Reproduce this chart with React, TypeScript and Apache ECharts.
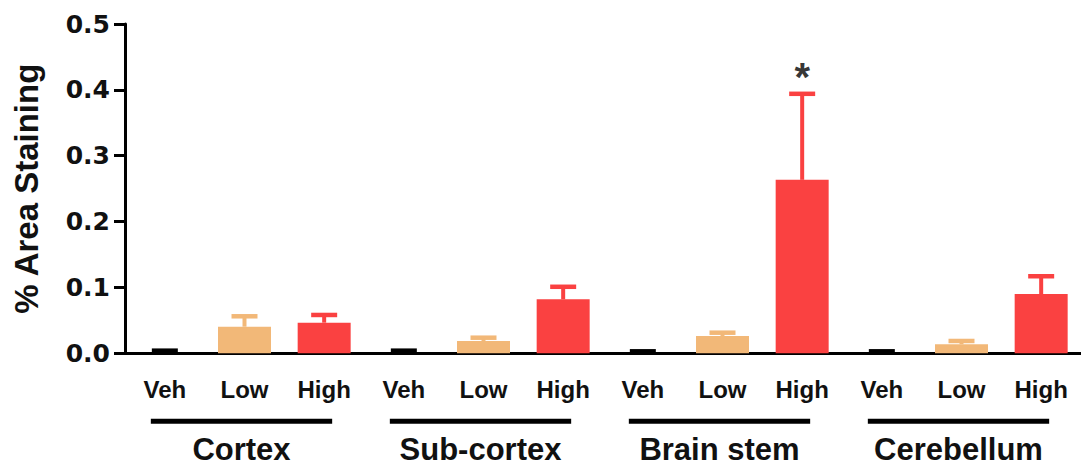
import React, { useEffect, useRef } from "react";
import * as echarts from "echarts";

const categories = ["Veh", "Low", "High", "Veh", "Low", "High", "Veh", "Low", "High", "Veh", "Low", "High"];
const doseIndex = [0, 1, 2, 0, 1, 2, 0, 1, 2, 0, 1, 2];
const means = [0.001, 0.0404, 0.0465, 0.001, 0.0187, 0.082, 0.001, 0.0263, 0.2634, 0.001, 0.0137, 0.09];
const upper = [0.004, 0.0562, 0.0582, 0.004, 0.0237, 0.101, 0.003, 0.0313, 0.394, 0.003, 0.0187, 0.117];
const groupNames = ["Cortex", "Sub-cortex", "Brain stem", "Cerebellum"];
const groupStart = [0, 3, 6, 9];
const groupEnd = [2, 5, 8, 11];
const yTicks = [0, 0.1, 0.2, 0.3, 0.4, 0.5];
const starIndex = 8;
const starValue = 0.42;
const starText = "*";

const doseColors = ["#000000", "#F2B878", "#FA4141"];
const FONT = "'Liberation Sans', Arial, sans-serif";

export default function App() {
  const ref = useRef<HTMLDivElement>(null);
  useEffect(() => {
    document.body.style.margin = "0";
    const chart = echarts.init(ref.current!, null, { renderer: "svg" });
    const option: any = {
      animation: false,
      backgroundColor: "#ffffff",
      grid: { left: 125, top: 24, width: 964, height: 329.3, containLabel: false },
      xAxis: {
        type: "category",
        data: categories,
        boundaryGap: true,
        axisLine: { lineStyle: { color: "#000", width: 3 } },
        axisTick: { alignWithLabel: true, length: 10, lineStyle: { color: "#000", width: 3 } },
        axisLabel: {
          margin: 24,
          fontFamily: FONT,
          fontWeight: "bold",
          fontSize: 24,
          color: "#111",
          interval: 0,
        },
        splitLine: { show: false },
      },
      yAxis: {
        type: "value",
        min: yTicks[0],
        max: yTicks[yTicks.length - 1],
        interval: 0.1,
        name: "% Area Staining",
        nameLocation: "middle",
        nameRotate: 90,
        nameGap: 82,
        nameTextStyle: { fontFamily: FONT, fontWeight: "bold", fontSize: 33, color: "#111" },
        axisLine: { show: true, lineStyle: { color: "#000", width: 3 } },
        axisTick: { show: true, length: 11, lineStyle: { color: "#000", width: 3 } },
        axisLabel: {
          margin: 15,
          fontFamily: "'DejaVu Sans', sans-serif",
          fontWeight: "bold",
          fontSize: 25,
          color: "#111",
          formatter: (v: number) => v.toFixed(1),
        },
        splitLine: { show: false },
      },
      series: [
        {
          type: "bar",
          barWidth: 53,
          z: 2,
          data: means.map((m, i) => ({ value: m, itemStyle: { color: doseColors[doseIndex[i]] } })),
        },
        {
          type: "custom",
          z: 3,
          clip: false,
          data: means.map((m, i) => [i, m, upper[i]]),
          renderItem: (params: any, api: any) => {
            const i = api.value(0);
            const p1 = api.coord([i, api.value(1)]);
            const p2 = api.coord([i, api.value(2)]);
            const color = doseColors[doseIndex[params.dataIndex]];
            return {
              type: "group",
              children: [
                {
                  type: "line",
                  shape: { x1: p1[0], y1: p1[1], x2: p2[0], y2: p2[1] },
                  style: { stroke: color, lineWidth: 4 },
                },
                {
                  type: "line",
                  shape: { x1: p2[0] - 13, y1: p2[1], x2: p2[0] + 13, y2: p2[1] },
                  style: { stroke: color, lineWidth: 4.5 },
                },
              ],
            };
          },
        },
        {
          type: "custom",
          z: 3,
          clip: false,
          silent: true,
          data: groupNames.map((n, g) => [groupStart[g], groupEnd[g]]),
          renderItem: (params: any, api: any) => {
            const a = api.coord([api.value(0), 0]);
            const b = api.coord([api.value(1), 0]);
            const x1 = a[0] - 14;
            const x2 = b[0] + 8;
            const y = a[1];
            return {
              type: "group",
              children: [
                {
                  type: "line",
                  shape: { x1, y1: y + 68, x2, y2: y + 68 },
                  style: { stroke: "#000", lineWidth: 5 },
                },
                {
                  type: "text",
                  x: (x1 + x2) / 2,
                  y: y + 96,
                  style: {
                    text: groupNames[params.dataIndex],
                    fontFamily: FONT,
                    fontWeight: "bold",
                    fontSize: 31,
                    fill: "#111",
                    align: "center",
                    verticalAlign: "middle",
                  },
                },
              ],
            };
          },
        },
        {
          type: "scatter",
          symbolSize: 0,
          z: 4,
          data: [[starIndex, starValue]],
          label: {
            show: true,
            position: "inside",
            formatter: starText,
            fontFamily: FONT,
            fontWeight: "bold",
            fontSize: 40,
            color: "#000",
          },
        },
      ],
    };
    chart.setOption(option);
    return () => chart.dispose();
  }, []);
  return <div ref={ref} style={{ position: "fixed", left: 0, top: 0, width: 1081, height: 467 }} />;
}
